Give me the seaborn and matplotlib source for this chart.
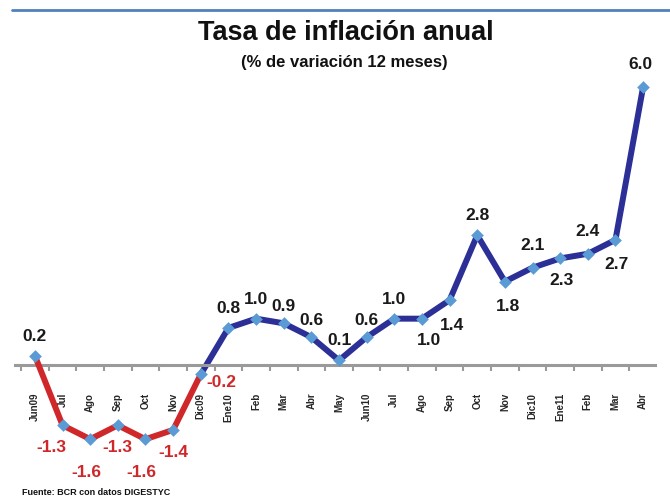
import matplotlib
matplotlib.use("Agg")
import matplotlib.pyplot as plt
import seaborn as sns
import pandas as pd
from matplotlib.lines import Line2D
from matplotlib.ticker import FixedLocator

months = ["Jun09", "Jul", "Ago", "Sep", "Oct", "Nov", "Dic09", "Ene10", "Feb", "Mar",
          "Abr", "May", "Jun10", "Jul", "Ago", "Sep", "Oct", "Nov", "Dic10", "Ene11",
          "Feb", "Mar", "Abr"]
inflation = [0.2, -1.3, -1.6, -1.3, -1.6, -1.4, -0.2, 0.8, 1.0, 0.9, 0.6, 0.1, 0.6,
             1.0, 1.0, 1.4, 2.8, 1.8, 2.1, 2.3, 2.4, 2.7, 6.0]
label_text = ["0.2", "-1.3", "-1.6", "-1.3", "-1.6", "-1.4", "-0.2", "0.8", "1.0", "0.9",
              "0.6", "0.1", "0.6", "1.0", "1.0", "1.4", "2.8", "1.8", "2.1", "2.3", "2.4",
              "2.7", "6.0"]
# label offsets in points (dx, dy) – layout only
offsets = [(0, 14), (-8, -16), (-3, -24), (0, -16), (-3, -24), (0, -16), (15, -6), (0, 14),
           (0, 14), (0, 12), (0, 12), (0, 14), (0, 12), (0, 14), (5, -16), (2, -18), (0, 14),
           (2, -18), (0, 16), (1, -16), (0, 16), (1, -18), (-2, 16)]

n = len(inflation)
df = pd.DataFrame({"idx": range(n), "value": inflation})
red_part = df.iloc[:7]
blue_part = df.iloc[6:]

sns.set_style("white")
plt.rcParams["font.family"] = ["Liberation Sans", "DejaVu Sans"]

fig = plt.figure(figsize=(6.7, 4.98), dpi=100)
ax = fig.add_axes([15 / 670, 1 - 467 / 498, 640 / 670, (467 - 73) / 498])

sns.lineplot(data=blue_part, x="idx", y="value", color="#2b2f96", linewidth=4.3, ax=ax,
             zorder=2)
sns.lineplot(data=red_part, x="idx", y="value", color="#d0282a", linewidth=4.3, ax=ax,
             zorder=3)
sns.scatterplot(data=df, x="idx", y="value", marker="D", s=42, color="#5b9bd5",
                edgecolor="#5b9bd5", linewidth=0, ax=ax, zorder=4)

for i, (v, t) in enumerate(zip(inflation, label_text)):
    col = "#d0282a" if v < 0 else "#1a1a1a"
    dx, dy = offsets[i]
    ax.annotate(t, (i, v), xytext=(dx, dy), textcoords="offset points",
                ha="center", va="center", fontsize=12.5, fontweight="bold", color=col)

ax.set_xlim(-0.72, 22.43)
ax.set_ylim(-2.2, 6.3)
for s in ["top", "right", "left"]:
    ax.spines[s].set_visible(False)
ax.spines["bottom"].set_position(("data", 0))
ax.spines["bottom"].set_color("#9a9a9a")
ax.spines["bottom"].set_linewidth(2.2)
ax.set_yticks([])
ax.set_xticks(range(n))
ax.set_xticklabels(months, rotation=90, fontsize=7, fontweight="bold", va="top",
                   fontstretch="condensed")
ax.tick_params(axis="x", which="major", length=0, pad=20, bottom=True)
ax.xaxis.set_minor_locator(FixedLocator([i - 0.5 for i in range(n + 1)]))
ax.tick_params(axis="x", which="minor", length=4, width=1.5, color="#9a9a9a",
               direction="out", bottom=True)
ax.set_xlabel("")
ax.set_ylabel("")
ax.patch.set_alpha(0)

fig.add_artist(Line2D([12 / 670, 1], [1 - 10 / 498, 1 - 10 / 498], color="#4f81bd",
                      linewidth=2))
fig.text(346 / 670, 1 - 33 / 498, "Tasa de inflación anual", ha="center", va="center",
         fontsize=19.5, fontweight="bold", color="#111111")
fig.text(344 / 670, 1 - 62 / 498, "(% de variación 12 meses)", ha="center", va="center",
         fontsize=12, fontweight="bold", color="#111111")
fig.text(22 / 670, 1 - 492 / 498, "Fuente: BCR con datos DIGESTYC", ha="left",
         va="center", fontsize=6.5, fontweight="bold", color="#111111")

fig.savefig("out.png", dpi=100)
